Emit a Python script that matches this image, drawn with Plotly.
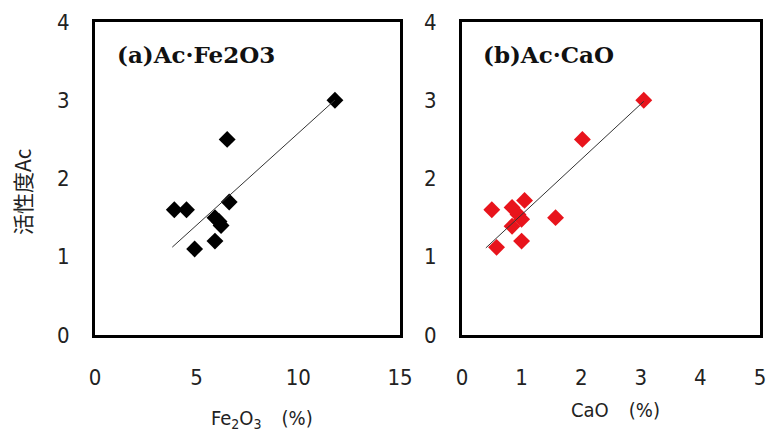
import plotly.graph_objects as go

# Panel (a): Ac vs Fe2O3
fe2o3 = [11.8, 6.5, 3.9, 4.5, 6.6, 5.9, 6.1, 6.2, 5.9, 4.9]
ac_a = [3.0, 2.5, 1.6, 1.6, 1.7, 1.5, 1.45, 1.4, 1.2, 1.1]
fit_a = [0.235, 0.23]          # slope, intercept
fit_a_x = [3.8, 11.8]

# Panel (b): Ac vs CaO
cao = [3.05, 2.02, 0.5, 0.84, 1.05, 0.94, 1.0, 0.84, 1.57, 1.0, 0.58]
ac_b = [3.0, 2.5, 1.6, 1.63, 1.72, 1.54, 1.48, 1.39, 1.5, 1.2, 1.12]
fit_b = [0.707, 0.83]
fit_b_x = [0.4, 3.05]

x_ticks_a = [0, 5, 10, 15]
x_ticks_b = [0, 1, 2, 3, 4, 5]
y_ticks = [0, 1, 2, 3, 4]

W, H = 769, 434
def px(v): return v / W
def py(v): return 1 - v / H

fig = go.Figure()
fig.add_trace(go.Scatter(x=fe2o3, y=ac_a, mode="markers",
                         marker=dict(symbol="diamond", size=13, color="black"),
                         xaxis="x", yaxis="y", showlegend=False))
fig.add_trace(go.Scatter(x=fit_a_x, y=[fit_a[0] * v + fit_a[1] for v in fit_a_x],
                         mode="lines", line=dict(color="#333333", width=1),
                         xaxis="x", yaxis="y", showlegend=False))
fig.add_trace(go.Scatter(x=cao, y=ac_b, mode="markers",
                         marker=dict(symbol="diamond", size=13, color="#e8141c"),
                         xaxis="x2", yaxis="y2", showlegend=False))
fig.add_trace(go.Scatter(x=fit_b_x, y=[fit_b[0] * v + fit_b[1] for v in fit_b_x],
                         mode="lines", line=dict(color="#333333", width=1),
                         xaxis="x2", yaxis="y2", showlegend=False))

cond = "DejaVu Sans Condensed, Liberation Sans Narrow, Arial Narrow, sans-serif"
tickfont = dict(family=cond, size=22, color="#222222")
common_x = dict(showgrid=False, zeroline=False, showline=True, mirror=True,
                linecolor="black", linewidth=3, ticks="outside", ticklen=21,
                tickcolor="rgba(0,0,0,0)", tickfont=tickfont, automargin=False)
common_y = dict(showgrid=False, zeroline=False, showline=True, mirror=True,
                linecolor="black", linewidth=3, ticks="outside", ticklen=18,
                tickcolor="rgba(0,0,0,0)", tickfont=tickfont, automargin=False,
                range=[0, 4], tickvals=y_ticks)

fig.update_layout(
    width=W, height=H,
    margin=dict(l=0, r=0, t=0, b=0, autoexpand=False),
    paper_bgcolor="white", plot_bgcolor="white",
    xaxis=dict(common_x, domain=[px(95), px(400)], range=[0, 15], tickvals=x_ticks_a, anchor="y"),
    yaxis=dict(common_y, domain=[py(335), py(22)], anchor="x"),
    xaxis2=dict(common_x, domain=[px(462), px(760)], range=[0, 5], tickvals=x_ticks_b, anchor="y2"),
    yaxis2=dict(common_y, domain=[py(335), py(22)], anchor="x2"),
)

titlefont = dict(family="DejaVu Serif, Liberation Serif, serif", size=23, color="#111111")
fig.add_annotation(text="<b>(a)Ac·Fe2O3</b>", x=px(115), y=py(55), xref="paper", yref="paper",
                   xanchor="left", yanchor="middle", showarrow=False, font=titlefont)
fig.add_annotation(text="<b>(b)Ac·CaO</b>", x=px(481), y=py(55), xref="paper", yref="paper",
                   xanchor="left", yanchor="middle", showarrow=False, font=titlefont)

labfont = dict(family=cond, size=20, color="#222222")
fig.add_annotation(text="Fe<sub>2</sub>O<sub>3</sub>　(%)", x=px(262), y=py(419), xref="paper", yref="paper",
                   xanchor="center", yanchor="middle", showarrow=False, font=labfont)
fig.add_annotation(text="CaO　(%)", x=px(615), y=py(410), xref="paper", yref="paper",
                   xanchor="center", yanchor="middle", showarrow=False, font=labfont)
fig.add_annotation(text="活性度Ac", x=px(22), y=py(192), xref="paper", yref="paper",
                   xanchor="center", yanchor="middle", showarrow=False, textangle=-90,
                   font=dict(family="Noto Sans CJK JP, Noto Sans, sans-serif", size=21, color="#222222"))

fig.write_html("out.html")
